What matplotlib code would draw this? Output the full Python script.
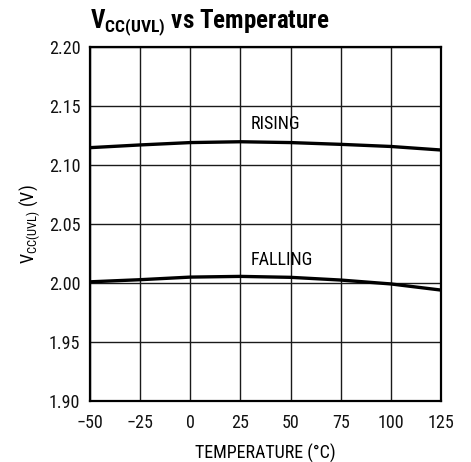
import matplotlib
matplotlib.use("Agg")
import matplotlib.pyplot as plt
from matplotlib import font_manager as fm

names = {f.name for f in fm.fontManager.ttflist}
fam = 'Liberation Sans'
for cand in ['Nimbus Sans Narrow', 'Liberation Sans Narrow', 'Roboto Condensed',
             'Archivo Narrow', 'Arimo Narrow', 'Barlow Semi Condensed']:
    if cand in names:
        fam = cand
        break
plt.rcParams['font.family'] = [fam, 'DejaVu Sans']
plt.rcParams['mathtext.fontset'] = 'custom'
plt.rcParams['mathtext.rm'] = fam
plt.rcParams['mathtext.bf'] = fam + ':bold'
plt.rcParams['mathtext.it'] = fam

temps = [-50, -25, 0, 25, 50, 75, 100, 125]
rising = [2.1147, 2.1170, 2.1190, 2.1197, 2.1190, 2.1175, 2.1157, 2.1127]
falling = [2.0010, 2.0028, 2.0050, 2.0056, 2.0048, 2.0025, 1.9992, 1.9940]
xticks = [-50, -25, 0, 25, 50, 75, 100, 125]
xticklabels = ['\u221250', '\u221225', '0', '25', '50', '75', '100', '125']
yticks = [1.90, 1.95, 2.00, 2.05, 2.10, 2.15, 2.20]

fig = plt.figure(figsize=(4.71, 4.62), dpi=100)
ax = fig.add_axes([90/471, 1-401/462, (441-90)/471, (401-47)/462])

ax.plot(temps, rising, color='black', lw=2.4, zorder=3)
ax.plot(temps, falling, color='black', lw=2.4, zorder=3)

ax.set_xlim(-50, 125)
ax.set_ylim(1.90, 2.20)
ax.set_xticks(xticks)
ax.set_xticklabels(xticklabels)
ax.set_yticks(yticks)
ax.set_yticklabels([f'{v:.2f}' for v in yticks])
ax.grid(True, color='#1a1a1a', lw=1.0)
ax.tick_params(length=0, labelsize=13, colors='#111111')
ax.tick_params(axis='x', pad=9)
ax.tick_params(axis='y', pad=7)
for s in ax.spines.values():
    s.set_linewidth(1.6)
    s.set_color('black')

ax.text(30, 2.1347, 'RISING', fontsize=13, va='center', ha='left')
ax.text(30, 2.0195, 'FALLING', fontsize=13, va='center', ha='left')

ax.set_xlabel('TEMPERATURE (\u00b0C)', fontsize=13, labelpad=9)
ax.set_ylabel(r'V$_{\mathrm{CC(UVL)}}$ (V)', fontsize=13, labelpad=5)

fig.text(90/471, 1-28/462, r'V$_{\mathbf{CC(UVL)}}$ vs Temperature', fontsize=18,
         fontweight='bold', ha='left', va='baseline')

fig.savefig('out.png', dpi=100)
